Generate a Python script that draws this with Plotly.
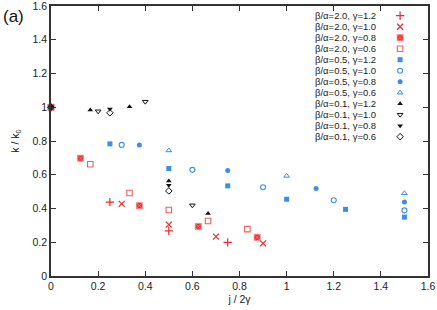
import plotly.graph_objects as go

# ---- data ----
names = [
    "β/α=2.0, γ=1.2", "β/α=2.0, γ=1.0", "β/α=2.0, γ=0.8", "β/α=2.0, γ=0.6",
    "β/α=0.5, γ=1.2", "β/α=0.5, γ=1.0", "β/α=0.5, γ=0.8", "β/α=0.5, γ=0.6",
    "β/α=0.1, γ=1.2", "β/α=0.1, γ=1.0", "β/α=0.1, γ=0.8", "β/α=0.1, γ=0.6",
]

x_r12 = [0, 0.25, 0.5, 0.75]
y_r12 = [1.0, 0.438, 0.268, 0.199]
x_r10 = [0, 0.3, 0.5, 0.7, 0.9]
y_r10 = [1.0, 0.427, 0.304, 0.233, 0.193]
x_r08 = [0, 0.125, 0.375, 0.625, 0.875]
y_r08 = [1.0, 0.698, 0.417, 0.294, 0.229]
x_r06 = [0, 0.1667, 0.3333, 0.5, 0.6667, 0.8333]
y_r06 = [1.0, 0.662, 0.492, 0.391, 0.326, 0.278]

x_b12 = [0, 0.25, 0.5, 0.75, 1.0, 1.25, 1.5]
y_b12 = [1.0, 0.783, 0.637, 0.534, 0.455, 0.395, 0.349]
x_b10 = [0, 0.3, 0.6, 0.9, 1.2, 1.5]
y_b10 = [1.0, 0.777, 0.629, 0.526, 0.449, 0.389]
x_b08 = [0, 0.375, 0.75, 1.125, 1.5]
y_b08 = [1.0, 0.777, 0.625, 0.518, 0.439]
x_b06 = [0, 0.5, 1.0, 1.5]
y_b06 = [1.0, 0.744, 0.593, 0.49]

x_k12 = [0, 0.1667, 0.3333, 0.5, 0.6667]
y_k12 = [1.0, 0.983, 1.003, 0.563, 0.37]
x_k10 = [0, 0.2, 0.4, 0.6]
y_k10 = [1.0, 0.976, 1.033, 0.419]
x_k08 = [0, 0.25, 0.5]
y_k08 = [1.0, 0.99, 0.538]
x_k06 = [0, 0.25, 0.5]
y_k06 = [1.0, 0.967, 0.504]

xs = [x_r12, x_r10, x_r08, x_r06, x_b12, x_b10, x_b08, x_b06, x_k12, x_k10, x_k08, x_k06]
ys = [y_r12, y_r10, y_r08, y_r06, y_b12, y_b10, y_b08, y_b06, y_k12, y_k10, y_k08, y_k06]

x_ticks = [0, 0.2, 0.4, 0.6, 0.8, 1, 1.2, 1.4, 1.6]
y_ticks = [0, 0.2, 0.4, 0.6, 0.8, 1, 1.2, 1.4, 1.6]

# ---- styles ----
RED = "#f02828"
PINK = "#f06060"
BLUE = "#3b8fe6"
BLACK = "#111111"
styles = [
    dict(symbol="cross-thin", size=6, color=RED, line=dict(color=RED, width=1.2)),
    dict(symbol="x-thin", size=6, color=RED, line=dict(color=RED, width=1.2)),
    dict(symbol="square-x", size=6, color=RED, line=dict(color="#ff8080", width=0.8)),
    dict(symbol="square-open", size=5.5, color=PINK, line=dict(color=PINK, width=1.1)),
    dict(symbol="square", size=5, color=BLUE, line=dict(width=0)),
    dict(symbol="circle-open", size=5, color=BLUE, line=dict(color=BLUE, width=1.1)),
    dict(symbol="circle", size=5, color=BLUE, line=dict(width=0)),
    dict(symbol="triangle-up-open", size=5, color=BLUE, line=dict(color=BLUE, width=1.0)),
    dict(symbol="triangle-up", size=5, color=BLACK, line=dict(width=0)),
    dict(symbol="triangle-down-open", size=5, color=BLACK, line=dict(color=BLACK, width=1.0)),
    dict(symbol="triangle-down", size=5, color=BLACK, line=dict(width=0)),
    dict(symbol="diamond-open", size=5, color=BLACK, line=dict(color=BLACK, width=1.0)),
]

FONT = "Liberation Sans"
fig = go.Figure()

for i, (nm, x, y, st) in enumerate(zip(names, xs, ys, styles)):
    fig.add_trace(go.Scatter(x=x, y=y, mode="markers", name=nm, marker=st,
                             cliponaxis=False, showlegend=False))
    # legend sample, placed by legend row index on a hidden helper axis
    fig.add_trace(go.Scatter(x=[1], y=[i], mode="markers", marker=st,
                             xaxis="x2", yaxis="y2", cliponaxis=False,
                             showlegend=False, hoverinfo="skip"))
    fig.add_annotation(x=0, y=i, xref="x2", yref="y2", text=nm, showarrow=False,
                       xanchor="right", yanchor="middle",
                       font=dict(family=FONT, size=9.5, color="#222"))

axis_common = dict(showgrid=False, zeroline=False, showline=True, linecolor="#333",
                   linewidth=1.5, mirror="ticks", ticks="inside", ticklen=5,
                   tickcolor="#333", tickwidth=1.2, automargin=False,
                   ticklabeloverflow="allow",
                   tickfont=dict(family=FONT, size=10.5, color="#222"))

fig.update_layout(
    width=437, height=310,
    margin=dict(l=51, r=9, t=6, b=34),
    plot_bgcolor="white", paper_bgcolor="white",
    showlegend=False,
    xaxis=dict(range=[0, 1.6], tickvals=x_ticks,
               ticktext=[f"{v:g}" for v in x_ticks],
               title=dict(text="j / 2γ", standoff=4,
                          font=dict(family=FONT, size=10.5, color="#222")),
               **axis_common),
    yaxis=dict(range=[0, 1.6], tickvals=y_ticks,
               ticktext=[f"{v:g}" for v in y_ticks],
               title=dict(text="k / k<sub>0</sub>", standoff=11,
                          font=dict(family=FONT, size=10.5, color="#222")),
               **axis_common),
    xaxis2=dict(domain=[0.867, 0.926], range=[0, 1], visible=False, anchor="y2"),
    yaxis2=dict(domain=[0.516, 0.964], range=[11, 0], visible=False, anchor="x2"),
)

fig.add_annotation(x=-0.133, y=1.005, xref="paper", yref="paper", text="(a)",
                   showarrow=False, xanchor="left", yanchor="top",
                   font=dict(family=FONT, size=17, color="#111"))

fig.write_html("out.html", config={"displayModeBar": False},
               post_script="document.body.style.margin='0';document.body.style.padding='0';")
